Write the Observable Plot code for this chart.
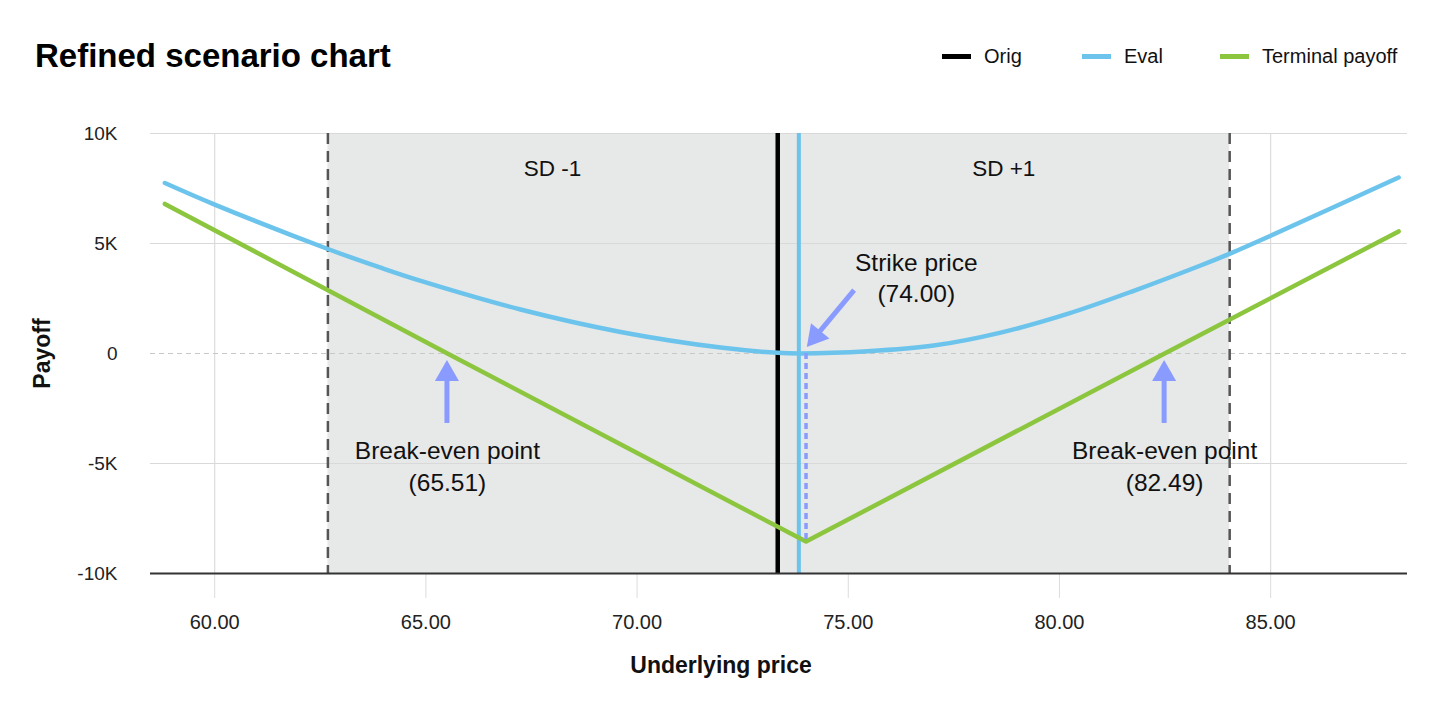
<!DOCTYPE html>
<html>
<head>
<meta charset="utf-8">
<script src="https://cdn.jsdelivr.net/npm/d3@7"></script>
<script src="https://cdn.jsdelivr.net/npm/@observablehq/plot@0.6"></script>
<style>
  body { margin: 0; background: #fff; font-family: "Liberation Sans", Arial, sans-serif; color: #111; }
  #wrap { position: relative; width: 1440px; height: 720px; overflow: hidden; }
  #title { position: absolute; left: 35px; top: 39px; font-size: 33px; line-height: 33px; font-weight: bold; color: #000; white-space: nowrap; }
  .lg { position: absolute; top: 46px; height: 20px; display: flex; align-items: center; font-size: 20px; color: #111; white-space: nowrap; }
  .sw { display: inline-block; width: 29px; height: 5px; margin-right: 13px; }
  #chart { position: absolute; left: 0; top: 100px; }
</style>
</head>
<body>
<div id="wrap">
  <div id="title">Refined scenario chart</div>
  <div id="legend"></div>
  <div id="chart"></div>
</div>
<script>
// ---- data ----
const seriesNames = ["Orig", "Eval", "Terminal payoff"];
const seriesColors = ["#000000", "#6cc4ec", "#8cc63f"];

const xTicks = [60, 65, 70, 75, 80, 85];
const yTicks = [-10000, -5000, 0, 5000, 10000];

const evalPrice  = [58.82, 60.0, 62.68, 63.93, 64.88, 67.24, 69.61, 71.98, 73.33, 73.87, 75.46, 77.02, 78.61, 80.19, 81.76, 83.34, 84.05, 85.0, 88.03];
const evalPayoff = [7750, 6770, 4750, 3900, 3300, 2000, 980, 270, 30, 0, 100, 360, 950, 1800, 2850, 4000, 4550, 5350, 8000];

const termPrice  = [58.82, 65.51, 74.0, 82.49, 88.03];
const termPayoff = [6800, 0, -8550, 0, 5550];

const origPrice = 73.33;
const evalLinePrice = 73.83;
const strikePrice = 74.0;
const sdBand = [62.68, 84.03];
const breakEven = [65.51, 82.49];

const sdLabels = ["SD -1", "SD +1"];
const sdLabelPrice = [68.0, 78.68];
const sdLabelY = 8400;

const annTexts = ["Strike price\n(74.00)", "Break-even point\n(65.51)", "Break-even point\n(82.49)"];
const annPrice = [76.61, 65.51, 82.49];
const annY = [3480, -5070, -5070];

// arrows: [tail price, tail payoff, tip price, tip payoff]
const arrowTail = [[75.15, 2860], [breakEven[0], -3180], [breakEven[1], -3180]];
const arrowTip  = [[74.03, 270], [breakEven[0], -320], [breakEven[1], -320]];

// ---- build tables ----
const evalData = evalPrice.map((p, i) => ({price: p, payoff: evalPayoff[i]}));
const termData = termPrice.map((p, i) => ({price: p, payoff: termPayoff[i]}));
const sdText = sdLabels.map((t, i) => ({text: t, price: sdLabelPrice[i], y: sdLabelY}));
const annData = annTexts.map((t, i) => ({text: t, price: annPrice[i], y: annY[i]}));
const arrows = arrowTail.map((t, i) => ({x1: t[0], y1: t[1], x2: arrowTip[i][0], y2: arrowTip[i][1]}));

const arrowColor = "#8a9bff";
const blue = seriesColors[1], green = seriesColors[2];

function arrowMark(list) {
  return (index, scales) => {
    const {x, y} = scales;
    const g = d3.create("svg:g");
    for (const a of list) {
      const x1 = x(a.x1), y1 = y(a.y1), x2 = x(a.x2), y2 = y(a.y2);
      const dx = x2 - x1, dy = y2 - y1, len = Math.hypot(dx, dy);
      const ux = dx / len, uy = dy / len;
      const hl = 21, hw = 12;
      const bx = x2 - ux * hl, by = y2 - uy * hl;
      g.append("line")
        .attr("x1", x1).attr("y1", y1)
        .attr("x2", bx + ux * 2).attr("y2", by + uy * 2)
        .attr("stroke", arrowColor).attr("stroke-width", 5);
      g.append("path")
        .attr("d", `M${x2},${y2}L${bx - uy * hw},${by + ux * hw}L${bx + uy * hw},${by - ux * hw}Z`)
        .attr("fill", arrowColor);
    }
    return g.node();
  };
}

const fmtK = d => d === 0 ? "0" : (d / 1000) + "K";

const chart = Plot.plot({
  width: 1440,
  height: 620,
  marginTop: 33,
  marginRight: 33,
  marginBottom: 147,
  marginLeft: 150,
  style: {fontFamily: "'Liberation Sans', Arial, sans-serif", fontSize: "19px", color: "#222", background: "transparent", overflow: "visible"},
  x: {domain: [58.48, 88.24]},
  y: {domain: [-10000, 10000]},
  marks: [
    Plot.gridX(xTicks, {stroke: "#dcdcdc", strokeOpacity: 1, strokeWidth: 1.2}),
    Plot.axisX(xTicks, {tickSize: 25, tickPadding: 16, stroke: "#dcdcdc", tickFormat: d3.format(".2f"), fill: "#222", fontSize: 20, label: null}),
    Plot.rect([sdBand], {x1: d => d[0], x2: d => d[1], fill: "#e7e8e8"}),
    Plot.gridY(yTicks.filter(d => d !== 0 && d !== -10000), {stroke: "#d9d9d9", strokeOpacity: 1, strokeWidth: 1.2}),
    Plot.ruleY([0], {stroke: "#c8c8c8", strokeDasharray: "5,4", strokeWidth: 1.2}),
    Plot.axisY(yTicks, {tickSize: 0, tickPadding: 33, tickFormat: fmtK, fill: "#222", fontSize: 19, label: null}),
    Plot.ruleX(sdBand, {stroke: "#555", strokeWidth: 2.5, strokeDasharray: "11,7"}),
    Plot.ruleX([origPrice], {stroke: seriesColors[0], strokeWidth: 4.5}),
    Plot.ruleX([evalLinePrice], {stroke: blue, strokeWidth: 4}),
    Plot.line(evalData, {x: "price", y: "payoff", stroke: blue, strokeWidth: 4.5, curve: "catmull-rom"}),
    Plot.line(termData, {x: "price", y: "payoff", stroke: green, strokeWidth: 4.5}),
    Plot.ruleX([strikePrice], {y1: 0, y2: termPayoff[2], stroke: arrowColor, strokeWidth: 3.5, strokeDasharray: "6,4"}),
    arrowMark(arrows),
    Plot.text(sdText, {x: "price", y: "y", text: "text", fontSize: 22.5, fill: "#111"}),
    Plot.text(annData, {x: "price", y: "y", text: "text", fontSize: 24.5, lineHeight: 1.27, fill: "#111"}),
    Plot.ruleY([-10000], {stroke: "#333", strokeWidth: 2}),
    Plot.text(["Payoff"], {frameAnchor: "left", textAnchor: "middle", lineAnchor: "middle", dx: -108, rotate: -90, fontWeight: "bold", fontSize: 23, fill: "#111"}),
    Plot.text(["Underlying price"], {frameAnchor: "bottom", textAnchor: "middle", lineAnchor: "middle", dy: 92, dx: -58, fontWeight: "bold", fontSize: 23, fill: "#111"})
  ]
});
document.getElementById("chart").appendChild(chart);

// legend
const legendLeft = [942, 1082, 1220];
const legend = document.getElementById("legend");
seriesNames.forEach((name, i) => {
  const item = document.createElement("div");
  item.className = "lg";
  item.style.left = legendLeft[i] + "px";
  const sw = document.createElement("span");
  sw.className = "sw";
  sw.style.background = seriesColors[i];
  item.appendChild(sw);
  item.appendChild(document.createTextNode(name));
  legend.appendChild(item);
});
</script>
</body>
</html>
